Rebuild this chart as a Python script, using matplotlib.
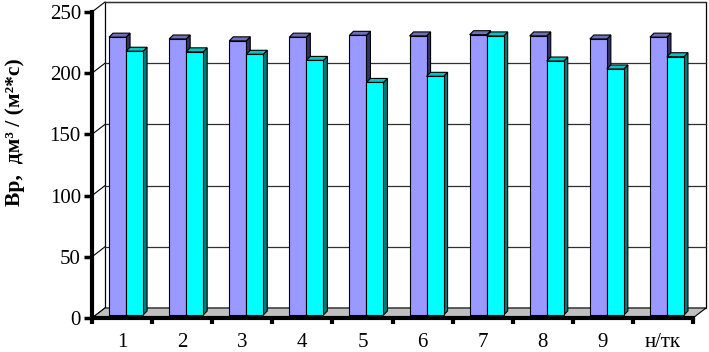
#!/usr/bin/env python3
"""Pseudo-3D clustered bar chart: Вр for samples 1-9 and н/тк."""

import matplotlib
matplotlib.use('Agg')
import matplotlib.pyplot as plt
from matplotlib.patches import Polygon, Rectangle

# Data
categories = ['1', '2', '3', '4', '5', '6', '7', '8', '9', 'н/тк']
series_a = [227, 225.5, 224, 227, 228.5, 228, 229, 228, 225.5, 227]
series_b = [215.5, 215, 213, 208, 190, 195, 228, 207.5, 201, 211]
y_ticks = [0, 50, 100, 150, 200, 250]

# Colours: front, top, side
COL_A = ('#9999FF', '#6F6FB8', '#333366')
COL_B = ('#00FFFF', '#00C4C4', '#007A7A')

W, H = 709, 352
AX_L, AX_R, AX_B, AX_T = 92, 693, 318, 12   # front plane, pixels
WALL_PX = (13, 10)                            # back wall offset, pixels
BAR_PX = (4, 3)                               # bar front offset from front plane
SIDE_PX = (4, 4)                              # bar depth, pixels

plt.rcParams['font.family'] = ['Liberation Serif', 'DejaVu Serif']

fig = plt.figure(figsize=(W / 100, H / 100), dpi=100)
ax = fig.add_axes([AX_L / W, 1 - AX_B / H, (AX_R - AX_L) / W, (AX_B - AX_T) / H])
n = len(categories)
ax.set_xlim(-0.5, n - 0.5)
ax.set_ylim(0, 250)

# pixel -> data conversion
sx = n / (AX_R - AX_L)
sy = 250 / (AX_B - AX_T)
wdx, wdy = WALL_PX[0] * sx, WALL_PX[1] * sy
bdx, bdy = BAR_PX[0] * sx, BAR_PX[1] * sy
ddx, ddy = SIDE_PX[0] * sx, SIDE_PX[1] * sy

x0, x1 = -0.5, n - 0.5

# back wall
ax.add_patch(Rectangle((x0 + wdx, wdy), n, 250, facecolor='white',
                       edgecolor='black', lw=0.9, clip_on=False, zorder=1))
# floor
ax.add_patch(Polygon([(x0, 0), (x1, 0), (x1 + wdx, wdy), (x0 + wdx, wdy)],
                     closed=True, facecolor='#C0C0C0', edgecolor='black',
                     lw=0.8, clip_on=False, zorder=1.5))
# gridlines on the back wall and left wall
for v in y_ticks[1:]:
    ax.plot([x0 + wdx, x1 + wdx], [v + wdy, v + wdy], color='#303030',
            lw=0.9, clip_on=False, zorder=1.2)
for v in y_ticks:
    ax.plot([x0, x0 + wdx], [v, v + wdy], color='black', lw=0.8,
            clip_on=False, zorder=1.2)

# bars
w = 0.283
for i in range(n):
    for k, (vals, cols) in enumerate([(series_a, COL_A), (series_b, COL_B)]):
        left = i - w + k * w + bdx
        right = left + w
        base = bdy
        top = base + vals[i]
        z = 3 + i * 2 + k
        kw = dict(edgecolor='black', lw=0.8, zorder=z, clip_on=False)
        ax.add_patch(Polygon([(right, base), (right + ddx, base + ddy),
                              (right + ddx, top + ddy), (right, top)],
                             facecolor=cols[2], **kw))
        ax.add_patch(Polygon([(left, top), (right, top),
                              (right + ddx, top + ddy), (left + ddx, top + ddy)],
                             facecolor=cols[1], **kw))
        ax.add_patch(Rectangle((left, base), w, vals[i],
                               facecolor=cols[0], **kw))

# axes
for s in ['top', 'right']:
    ax.spines[s].set_visible(False)
for s in ['left', 'bottom']:
    ax.spines[s].set_linewidth(3)
    ax.spines[s].set_zorder(40)
ax.patch.set_visible(False)

ax.set_yticks(y_ticks)
ax.set_yticklabels([str(v) for v in y_ticks], fontsize=15)
ax.tick_params(axis='y', direction='out', length=6, width=2.5, pad=2)

ax.set_xticks([i - 0.5 for i in range(n + 1)], minor=False)
ax.set_xticklabels([])
ax.tick_params(axis='x', direction='out', length=4, width=3)
ax.set_xticks(range(n), minor=True)
ax.set_xticklabels(categories, minor=True, fontsize=15)
ax.tick_params(axis='x', which='minor', length=0, pad=11)

fig.text(15 / W, 1 - 132 / H, 'Вр,  дм³ / (м²*с)', rotation=90,
         ha='center', va='center', fontsize=15.5, fontweight='bold')

fig.savefig('out.png', dpi=100)
